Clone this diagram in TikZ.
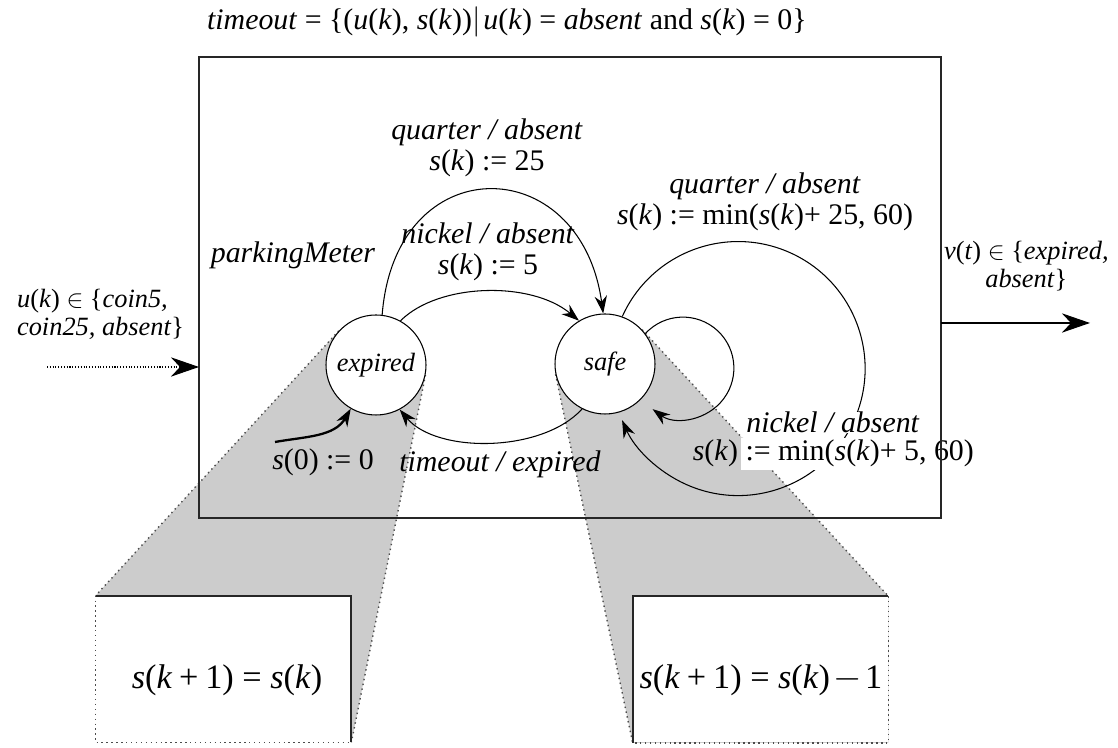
\documentclass[tikz,border=0pt]{standalone}
\usepackage{fontspec}
\setmainfont{Liberation Serif}
\usepackage{tikz}
\usetikzlibrary{arrows.meta,calc}
\pgfdeclarelayer{pmbg}
\pgfsetlayers{pmbg,main}
\tikzset{
  pmstate/.style={circle, draw=black, line width=0.6pt, fill=white, minimum size=2cm, inner sep=0pt, font=\fontsize{15}{15}\selectfont},
  pmedge/.style={line width=0.6pt, draw=black, -{Stealth[length=10pt,width=7pt]}},
  pmio/.style={line width=0.6pt, draw=black, -{Stealth[length=16pt,width=11pt]}},
  pmlabel/.style={inner sep=1pt, align=center, font=\fontsize{17}{18}\selectfont},
  pmsmall/.style={inner sep=1pt, align=center, font=\fontsize{15}{16}\selectfont},
  pmbig/.style={inner sep=0pt, font=\fontsize{19.5}{20}\selectfont},
  pmbox/.style={fill=white, minimum width=5.1cm, minimum height=2.92cm, inner sep=0pt},
  pmframe/.style={line width=1pt, draw=black!85},
  pmdots/.style={line width=0.8pt, draw=black!70, dotted},
  pmfunnel/.style={fill=black!20},
}
\newcommand{\pmv}[1]{\textit{#1}}
\newcommand{\pmsk}{\pmv{s}(\pmv{k})}
\setlength{\fboxsep}{1.5pt}

\begin{document}
\begin{tikzpicture}
\useasboundingbox (0,0) rectangle (22.360,14.960);
% states
\node[pmstate] (ex) at (7.520,7.660) {\pmv{expired}};
\node[pmstate] (sf) at (12.100,7.680) {\pmv{safe}};
% zoomed boxes
\node[pmbox] (lbox) at (4.470,1.580) {};
\node[pmbox] (rbox) at (15.210,1.570) {};
\node[pmbig] (ltxt) at (4.540,1.360) {\pmv{s}(\pmv{k}\hspace{.2em}+\hspace{.2em}1)\hspace{.25em}=\hspace{.25em}\pmsk};
\node[pmbig] (rtxt) at (15.220,1.360) {\pmv{s}(\pmv{k}\hspace{.2em}+\hspace{.2em}1)\hspace{.25em}=\hspace{.25em}\pmsk\hspace{.1em}$-$\hspace{.1em}1};
\draw[pmframe] (lbox.north west) -- (lbox.north east) -- (lbox.south east);
\draw[pmdots] (lbox.north west) -- (lbox.south west) -- (lbox.south east);
\draw[pmframe] (rbox.north east) -- (rbox.north west) -- (rbox.south west);
\draw[pmdots] (rbox.north east) -- (rbox.south east) -- (rbox.south west);
% funnels
\coordinate (t1) at (tangent cs:node=ex,point={(lbox.north west)},solution=2);
\coordinate (t2) at (tangent cs:node=ex,point={(lbox.south east)},solution=1);
\coordinate (t3) at (tangent cs:node=sf,point={(rbox.south west)},solution=2);
\coordinate (t4) at (tangent cs:node=sf,point={(rbox.north east)},solution=1);
\begin{pgfonlayer}{pmbg}
\fill[pmfunnel] (t1) -- (lbox.north west) -- (lbox.north east) -- (lbox.south east) -- (t2) -- (ex.center) -- cycle;
\fill[pmfunnel] (t4) -- (rbox.north east) -- (rbox.south east) -- (rbox.south west) -- (t3) -- (sf.center) -- cycle;
\draw[pmdots] (t1) -- (lbox.north west);
\draw[pmdots] (t2) -- (lbox.south east);
\draw[pmdots] (t3) -- (rbox.south west);
\draw[pmdots] (t4) -- (rbox.north east);
\end{pgfonlayer}
% transitions
\draw[pmedge] (ex.83) .. controls +(0.26,3.34) and +(-0.46,3.28) .. (sf.92);
\draw[pmedge] (ex.61) .. controls +(0.76,0.76) and +(-0.96,0.80) .. (sf.121);
\draw[pmedge] (sf.243) .. controls +(-0.80,-0.88) and +(0.74,-0.88) .. (ex.298);
\draw[pmedge] (sf.70) arc[start angle=155.8, end angle=-156, radius=2.54];
\draw[pmedge] (sf.37) arc[start angle=137.4, end angle=-126.4, radius=1.02];
\coordinate (s0) at (5.500,6.120);
\draw[pmedge, line width=1.3pt] (s0) to[out=10,in=240] (ex.240);
% labels
\node[pmlabel, anchor=west] (ttl) at (4.100,14.520) {\pmv{timeout} = \{(\pmv{u}(\pmv{k}), \pmsk)$\big|$\hspace{.1em}\pmv{u}(\pmv{k}) = \pmv{absent} and \pmsk{} = 0\}};
\node[pmlabel] (pmname) at (5.860,9.860) {\pmv{parkingMeter}};
\node[pmlabel] (lqtr) at (9.740,12.000) {\pmv{quarter / absent}\\\pmsk{} := 25};
\node[pmlabel] (lnkl) at (9.760,9.920) {\pmv{nickel / absent}\\\pmsk{} := 5};
\node[pmlabel] (lqtr2) at (15.300,10.920) {\pmv{quarter / absent}\\\pmsk{} := min(\pmsk{}+ 25, 60)};
\node[pmlabel, fill=white, inner sep=0pt, anchor=base] (lnkl2b) at (16.640,5.740) {\colorbox{black!20}{\pmsk}\,:= min(\pmsk{}+ 5, 60)};
\node[pmlabel, fill=white, inner sep=0pt, anchor=base] (lnkl2a) at (16.660,6.300) {\pmv{nickel / absent}};
\node[pmlabel] (ltmo) at (10.000,5.680) {\pmv{timeout / expired}};
\node[pmlabel] (linit) at (6.460,5.720) {\pmv{s}(0) := 0};
\node[pmsmall, align=left, anchor=west] (lin) at (0.300,8.670) {\pmv{u}(\pmv{k}) $\in$ \{\pmv{coin5,}\\\pmv{coin25, absent}\}};
\node[pmsmall, anchor=west] (lout) at (18.840,9.640) {\pmv{v}(\pmv{t}) $\in$ \{\pmv{expired,}\\\pmv{absent}\}};
% machine frame and io
\coordinate (pmnw) at (3.980,13.820);
\coordinate (pmse) at (18.820,4.600);
\draw[pmframe] (pmnw) rectangle (pmse);
\coordinate (uin) at (0.940,7.620);
\draw[pmio, densely dotted] (uin) -- (uin -| pmnw);
\coordinate (vout) at (21.800,8.500);
\draw[pmio] (vout -| pmse) -- (vout);
\end{tikzpicture}
\end{document}
